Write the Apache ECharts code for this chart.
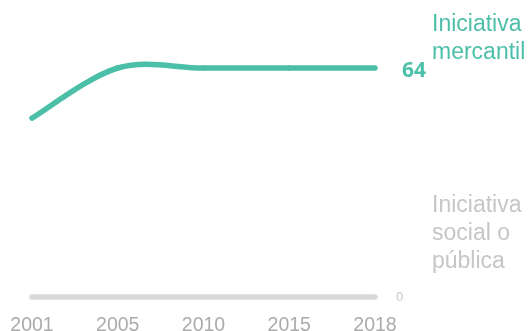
<!DOCTYPE html>
<html>
<head>
<meta charset="utf-8">
<script src="https://cdn.jsdelivr.net/npm/echarts@6/dist/echarts.min.js"></script>
<style>
  html, body { margin: 0; padding: 0; background: #fff; }
  #chart { width: 529px; height: 331px; }
</style>
</head>
<body>
<div id="chart"></div>
<script>
// data
var years = ['2001', '2005', '2010', '2015', '2018'];
var mercantil = [50, 64, 64, 64, 64];
var socialPublica = [0, 0, 0, 0, 0];
var seriesNames = ['Iniciativa\nmercantil', 'Iniciativa\nsocial o\npública'];

var green = '#4cbfa9';
var grey = '#d9d9d9';

drawChart();

// cardinal curve (like d3.curveCardinal), one segment per data item
function renderCurve(params, api) {
    var i = params.dataIndex;
    var n = mercantil.length;
    if (i >= n - 1) {
        return null;
    }
    function pt(k) {
        k = Math.max(0, Math.min(n - 1, k));
        return api.coord([k, mercantil[k]]);
    }
    var p0 = pt(i - 1), p1 = pt(i), p2 = pt(i + 1), p3 = pt(i + 2);
    return {
        type: 'bezierCurve',
        shape: {
            x1: p1[0], y1: p1[1],
            x2: p2[0], y2: p2[1],
            cpx1: p1[0] + (p2[0] - p0[0]) / 6,
            cpy1: p1[1] + (p2[1] - p0[1]) / 6,
            cpx2: p2[0] - (p3[0] - p1[0]) / 6,
            cpy2: p2[1] - (p3[1] - p1[1]) / 6
        },
        style: { stroke: green, lineWidth: 5.5, fill: null, lineCap: 'round' }
    };
}

function drawChart() {
    var myChart = echarts.init(document.getElementById('chart'));

    var option = {
        animation: false,
        grid: { left: 32, right: 154, top: 10.75, bottom: 34, outerBoundsMode: 'none' },
        xAxis: {
            type: 'category',
            data: years,
            boundaryGap: false,
            axisLine: { show: false },
            axisTick: { show: false },
            axisLabel: {
                color: '#ababab',
                fontFamily: 'Liberation Sans',
                fontSize: 19.5,
                margin: 19
            }
        },
        yAxis: {
            type: 'value',
            min: 0,
            max: 80,
            show: false
        },
        series: [
            {
                name: 'mercantil',
                type: 'custom',
                data: mercantil.map(function (v, i) { return [i, v]; }),
                renderItem: renderCurve,
                clip: false
            },
            {
                // only carries the end value label
                name: 'mercantilLabel',
                type: 'line',
                data: mercantil,
                showSymbol: false,
                lineStyle: { opacity: 0 },
                endLabel: {
                    show: true,
                    distance: 27,
                    color: green,
                    fontFamily: 'Noto Sans',
                    fontWeight: 'bold',
                    fontSize: 21,
                    offset: [0, 3]
                }
            },
            {
                name: 'social',
                type: 'line',
                data: socialPublica,
                showSymbol: false,
                clip: false,
                lineStyle: { color: grey, width: 5.5, cap: 'round' },
                endLabel: {
                    show: true,
                    distance: 21,
                    color: '#c6c6c6',
                    fontFamily: 'Liberation Sans',
                    fontSize: 13
                }
            }
        ],
        graphic: [
            {
                type: 'text',
                left: 432,
                top: 11,
                style: {
                    text: seriesNames[0],
                    fill: green,
                    font: '23px "Liberation Sans"',
                    lineHeight: 28
                }
            },
            {
                type: 'text',
                left: 432,
                top: 192,
                style: {
                    text: seriesNames[1],
                    fill: '#c6c6c6',
                    font: '23px "Liberation Sans"',
                    lineHeight: 28
                }
            }
        ]
    };

    myChart.setOption(option);
}
</script>
</body>
</html>
